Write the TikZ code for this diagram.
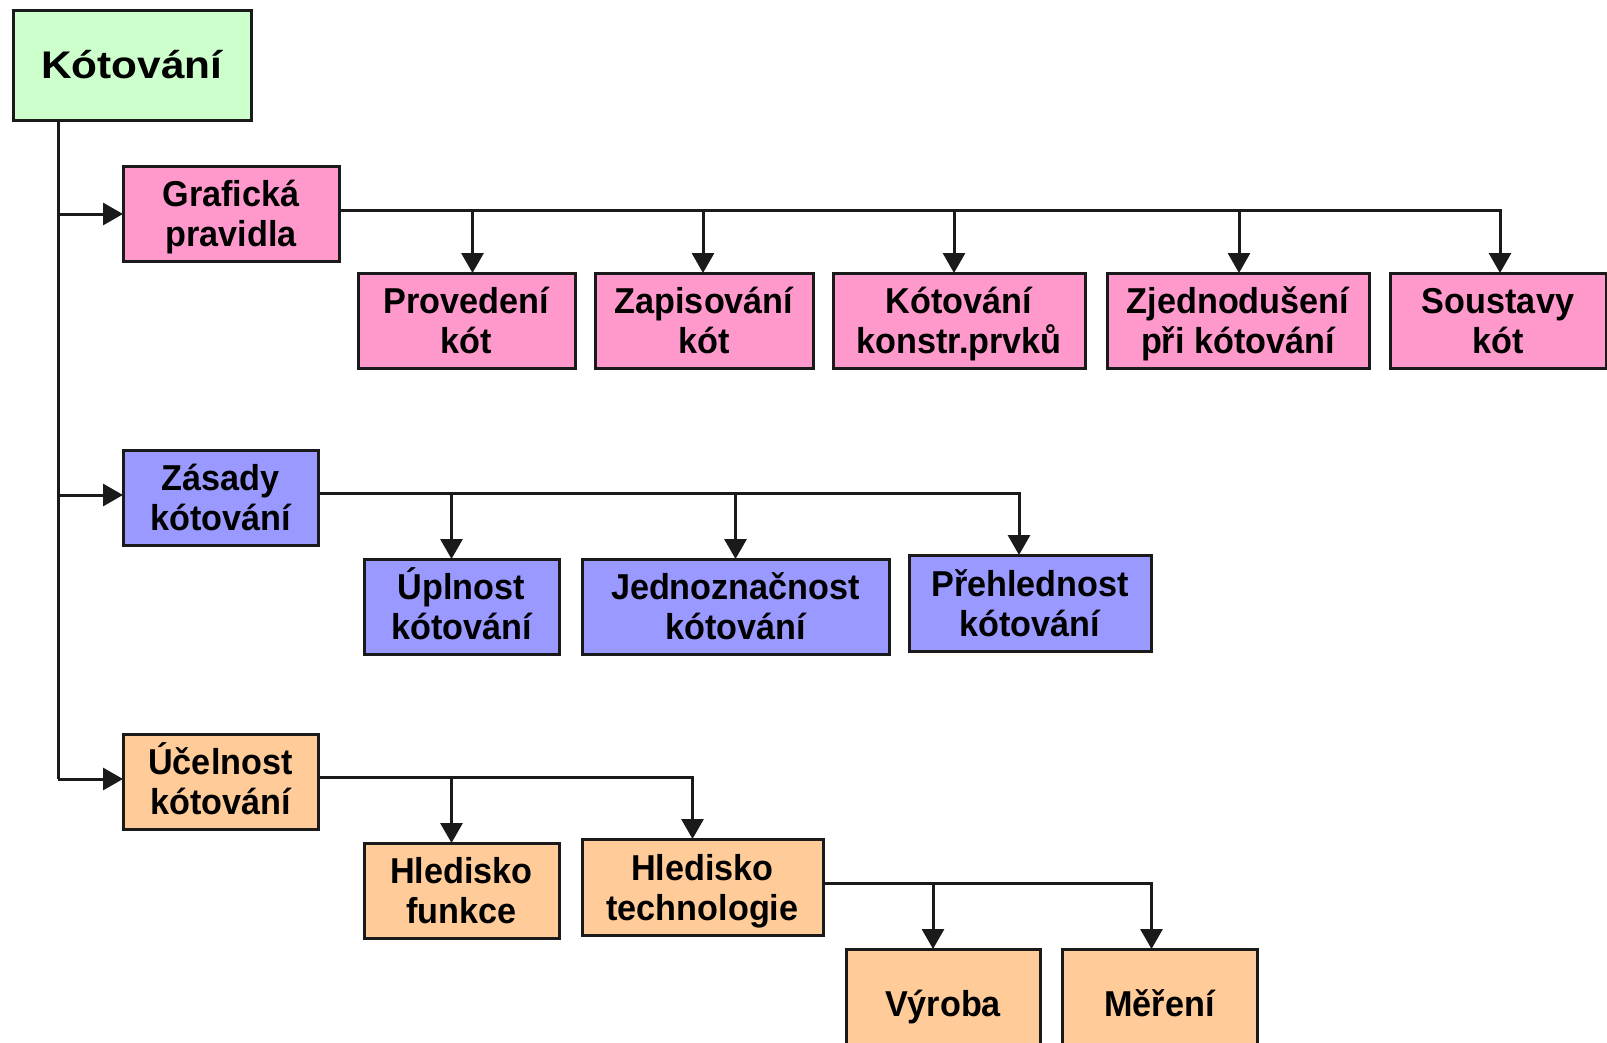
\documentclass[tikz,border=0pt]{standalone}
\usepackage{fontspec}
\setmainfont{Liberation Sans}
\newfontfamily\boxfont[FakeStretch=0.95]{Liberation Sans}
\newfontfamily\titlefont[FakeStretch=1.1]{Liberation Sans}
\usetikzlibrary{arrows.meta}
\definecolor{cgreen}{HTML}{CCFFCC}
\definecolor{cpink}{HTML}{FF99CC}
\definecolor{cblue}{HTML}{9999FF}
\definecolor{corange}{HTML}{FFCC99}
\definecolor{cline}{HTML}{1A1A1A}
\begin{document}
\begin{tikzpicture}[x=1pt,y=-1pt,
  box/.style={draw=cline, line width=3pt, inner sep=0pt, outer sep=0pt, align=center,
    text=black, font=\boxfont\bfseries\fontsize{36}{40}\selectfont,
    text height=74pt, text depth=8pt},
  onebox/.style={box, text height=36pt, text depth=8pt},
  conn/.style={draw=cline, line width=3pt},
  arr/.style={draw=cline, line width=3pt, -{Triangle[width=22pt,length=20pt]}}]
\useasboundingbox (0,0) rectangle (1607,1042);
\fill[white] (0,0) rectangle (1607,1042);

% title
\node[box, fill=cgreen, minimum width=238pt, minimum height=110pt,
  text height=33pt, text depth=7pt,
  font=\titlefont\bfseries\fontsize{38.5}{42}\selectfont] (t) at (132,65) {Kótování};

% level 1
\node[box, fill=cpink, minimum width=216pt, minimum height=95pt] (g) at (231,213.5) {Grafická\\pravidla};
\node[box, fill=cblue, minimum width=195pt, minimum height=95pt] (z) at (220.5,497.5) {Zásady\\kótování};
\node[box, fill=corange, minimum width=195pt, minimum height=95pt] (u) at (220.5,781.5) {Účelnost\\kótování};

% row 1
\node[box, fill=cpink, minimum width=217pt, minimum height=95pt] (p1) at (466.5,320.5) {Provedení\\kót};
\node[box, fill=cpink, minimum width=218pt, minimum height=95pt] (p2) at (704,320.5) {Zapisování\\kót};
\node[box, fill=cpink, minimum width=252pt, minimum height=95pt] (p3) at (959,320.5) {Kótování\\konstr.prvků};
\node[box, fill=cpink, minimum width=262pt, minimum height=95pt] (p4) at (1238,320.5) {Zjednodušení\\při kótování};
\node[box, fill=cpink, minimum width=216pt, minimum height=95pt] (p5) at (1498,320.5) {Soustavy\\kót};

% row 2
\node[box, fill=cblue, minimum width=195pt, minimum height=95pt] (q1) at (461.5,606.5) {Úplnost\\kótování};
\node[box, fill=cblue, minimum width=307pt, minimum height=95pt] (q2) at (735.5,606.5) {Jednoznačnost\\kótování};
\node[box, fill=cblue, minimum width=242pt, minimum height=96pt] (q3) at (1030,603) {Přehlednost\\kótování};

% row 3
\node[box, fill=corange, minimum width=195pt, minimum height=95pt] (h1) at (461.5,890.5) {Hledisko\\funkce};
\node[box, fill=corange, minimum width=241pt, minimum height=96pt] (h2) at (702.5,887) {Hledisko\\technologie};

% row 4
\node[onebox, fill=corange, minimum width=194pt, minimum height=106pt] (v1) at (943,1002) {Výroba};
\node[onebox, fill=corange, minimum width=195pt, minimum height=106pt] (v2) at (1159.5,1002) {Měření};

% trunk
\coordinate (trunk) at (58,0);
\coordinate (gl) at ([yshift=-0.5pt]g.west);
\coordinate (zl) at ([yshift=2.5pt]z.west);
\coordinate (ul) at ([yshift=2.5pt]u.west);
\draw[conn] (t.south -| trunk) -- (ul -| trunk);
\draw[arr] (gl -| trunk) -- (gl);
\draw[arr] (zl -| trunk) -- (zl);
\draw[arr] (ul -| trunk) -- (ul);

% bus 1
\coordinate (gb) at ([yshift=3.5pt]g.east);
\coordinate (a11) at ([xshift=6pt]p1.north);
\coordinate (a12) at ([xshift=-1pt]p2.north);
\coordinate (a13) at ([xshift=-5pt]p3.north);
\coordinate (a14) at ([xshift=1pt]p4.north);
\coordinate (a15) at ([xshift=2pt]p5.north);
\draw[arr] (gb) -| (a15);
\foreach \a in {a11,a12,a13,a14} \draw[arr] (gb -| \a) -- (\a);

% bus 2
\coordinate (zb) at ([yshift=4.5pt]z.east);
\coordinate (a21) at ([xshift=-10pt]q1.north);
\coordinate (a22) at (q2.north);
\coordinate (a23) at ([xshift=-11pt]q3.north);
\draw[arr] (zb) -| (a23);
\foreach \a in {a21,a22} \draw[arr] (zb -| \a) -- (\a);

% bus 3
\coordinate (ub) at ([yshift=4.5pt]u.east);
\coordinate (a31) at ([xshift=-10pt]h1.north);
\coordinate (a32) at ([xshift=-10pt]h2.north);
\draw[arr] (ub) -| (a32);
\draw[arr] (ub -| a31) -- (a31);

% bus 4
\coordinate (hb) at ([yshift=4pt]h2.east);
\coordinate (a41) at ([xshift=-10pt]v1.north);
\coordinate (a42) at ([xshift=-8pt]v2.north);
\draw[arr] (hb) -| (a42);
\draw[arr] (hb -| a41) -- (a41);
\end{tikzpicture}
\end{document}
